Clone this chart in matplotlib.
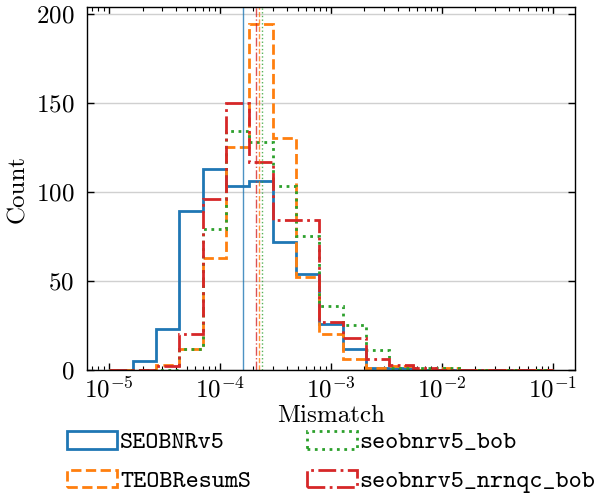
import numpy as np
import matplotlib
matplotlib.use("Agg")
import matplotlib.pyplot as plt

# ---- data ----
bin_edges_log = np.linspace(-5, -1, 20)   # 19 log-spaced bins from 1e-5 to 1e-1
labels = ["SEOBNRv5", "TEOBResumS", "seobnrv5_bob", "seobnrv5_nrnqc_bob"]
colors = ["#1f77b4", "#ff7f0e", "#2ca02c", "#d62728"]
styles = ["-", "--", ":", "-."]

counts_seobnrv5 = [0, 5, 23, 89, 113, 103, 106, 72, 54, 26, 12, 1, 1, 0, 0, 0, 0, 0, 0]
counts_teob = [0, 0, 3, 12, 63, 125, 194, 130, 52, 20, 6, 1, 2, 0, 1, 0, 0, 0, 0]
counts_bob = [0, 0, 0, 12, 79, 134, 128, 103, 75, 36, 25, 11, 1, 1, 1, 0, 0, 0, 0]
counts_nrnqc = [0, 0, 2, 20, 96, 150, 117, 84, 84, 27, 18, 6, 3, 1, 0, 0, 0, 0, 0]
medians = [1.62e-4, 2.23e-4, 2.39e-4, 2.11e-4]

yticks = [0, 50, 100, 150, 200]

FS = 18

plt.rcParams["font.family"] = "serif"
plt.rcParams["font.serif"] = ["cmr10"]
plt.rcParams["mathtext.fontset"] = "cm"
plt.rcParams["axes.formatter.use_mathtext"] = True
plt.rcParams["axes.unicode_minus"] = True

fig = plt.figure(figsize=(5.95, 4.98), dpi=100)
ax = fig.add_axes([87 / 595, 1 - 370 / 498, (575 - 87) / 595, (370 - 7) / 498])

edges = 10 ** bin_edges_log
centers = np.sqrt(edges[:-1] * edges[1:])
all_counts = [counts_seobnrv5, counts_teob, counts_bob, counts_nrnqc]
for cnt, lab, col, ls in zip(all_counts, labels, colors, styles):
    ax.hist(centers, bins=edges, weights=cnt, histtype="step", color=col,
            linestyle=ls, linewidth=2, label=lab)
for med, col, ls in zip(medians, colors, styles):
    ax.axvline(med, color=col, linestyle=ls, linewidth=1, alpha=0.8)

ax.set_xscale("log")
ax.set_yticks(yticks)
ax.grid(axis="y", color="#d0d0d0", linewidth=1)
ax.set_axisbelow(True)
ax.tick_params(which="both", direction="in", top=True, right=True, labelsize=FS)
ax.tick_params(which="major", length=5, width=1)
ax.tick_params(which="minor", length=3, width=0.8)
ax.tick_params(axis="y", pad=9)
ax.tick_params(axis="x", pad=5)
for s in ax.spines.values():
    s.set_linewidth(1)

ax.set_xlabel("Mismatch", fontsize=FS, labelpad=1)
ax.set_ylabel("Count", fontsize=FS, labelpad=5)

leg = fig.legend(*ax.get_legend_handles_labels(), loc="upper left",
                 bbox_to_anchor=(57 / 595, 1 - 421 / 498),
                 bbox_transform=fig.transFigure, ncol=2,
                 frameon=False, prop={"family": "cmtt10", "size": FS},
                 handlelength=2.0, columnspacing=2.22, handletextpad=0.12,
                 labelspacing=0.6, borderpad=0.4, borderaxespad=0)

fig.savefig("out.png", dpi=100)
